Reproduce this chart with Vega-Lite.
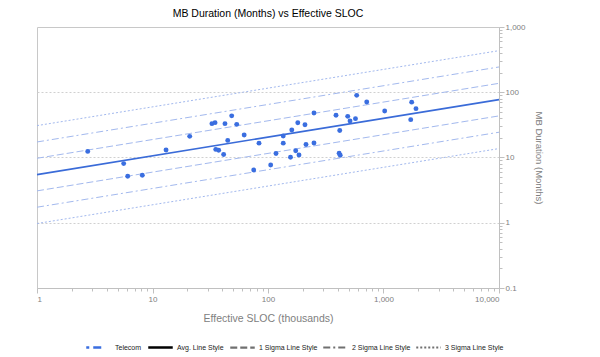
{
  "$schema": "https://vega.github.io/schema/vega-lite/v6.json",
  "width": 462,
  "height": 261,
  "autosize": {"type": "none"},
  "padding": {"left": 37, "top": 27, "right": 101, "bottom": 69},
  "title": {"text": "MB Duration (Months) vs Effective SLOC", "fontSize": 10.5, "font": "Liberation Sans", "fontWeight": "normal", "color": "#000000", "offset": 4, "anchor": "middle"},
  "config": {
    "font": "Liberation Sans",
    "view": {"stroke": "#c8c8c8", "strokeWidth": 1},
    "axis": {"domainColor": "#c0c0c0", "tickColor": "#c0c0c0", "labelColor": "#808080", "titleColor": "#808080", "labelFont": "Liberation Sans", "titleFont": "Liberation Sans", "titleFontWeight": "normal"}
  },
  "datasets": {
    "points": [
      {"series": "Telecom", "x": 2.75, "y": 12.4},
      {"series": "Telecom", "x": 5.63, "y": 8.07},
      {"series": "Telecom", "x": 6.1, "y": 5.15},
      {"series": "Telecom", "x": 8.16, "y": 5.34},
      {"series": "Telecom", "x": 13.1, "y": 13.0},
      {"series": "Telecom", "x": 21.0, "y": 21.1},
      {"series": "Telecom", "x": 32.7, "y": 33.0},
      {"series": "Telecom", "x": 34.8, "y": 34.2},
      {"series": "Telecom", "x": 42.4, "y": 33.0},
      {"series": "Telecom", "x": 48.5, "y": 43.5},
      {"series": "Telecom", "x": 53.6, "y": 32.2},
      {"series": "Telecom", "x": 62.2, "y": 22.1},
      {"series": "Telecom", "x": 44.8, "y": 18.3},
      {"series": "Telecom", "x": 35.3, "y": 13.3},
      {"series": "Telecom", "x": 37.4, "y": 12.9},
      {"series": "Telecom", "x": 41.3, "y": 11.1},
      {"series": "Telecom", "x": 75.2, "y": 6.44},
      {"series": "Telecom", "x": 83.6, "y": 16.6},
      {"series": "Telecom", "x": 105.5, "y": 7.68},
      {"series": "Telecom", "x": 117.3, "y": 11.5},
      {"series": "Telecom", "x": 135.5, "y": 21.3},
      {"series": "Telecom", "x": 135.5, "y": 16.6},
      {"series": "Telecom", "x": 160.7, "y": 26.4},
      {"series": "Telecom", "x": 181.1, "y": 34.0},
      {"series": "Telecom", "x": 209, "y": 31.7},
      {"series": "Telecom", "x": 173.8, "y": 12.7},
      {"series": "Telecom", "x": 156.6, "y": 10.1},
      {"series": "Telecom", "x": 185.5, "y": 10.9},
      {"series": "Telecom", "x": 213.3, "y": 15.8},
      {"series": "Telecom", "x": 250, "y": 16.7},
      {"series": "Telecom", "x": 250, "y": 48.0},
      {"series": "Telecom", "x": 388, "y": 44.3},
      {"series": "Telecom", "x": 490, "y": 42.7},
      {"series": "Telecom", "x": 513, "y": 36.2},
      {"series": "Telecom", "x": 572, "y": 39.4},
      {"series": "Telecom", "x": 586, "y": 89.7},
      {"series": "Telecom", "x": 716, "y": 70.8},
      {"series": "Telecom", "x": 418, "y": 25.9},
      {"series": "Telecom", "x": 413, "y": 11.6},
      {"series": "Telecom", "x": 422, "y": 10.8},
      {"series": "Telecom", "x": 1024, "y": 51.5},
      {"series": "Telecom", "x": 1754, "y": 70.5},
      {"series": "Telecom", "x": 1911, "y": 56.1},
      {"series": "Telecom", "x": 1721, "y": 38.0}
    ],
    "lines": [
      {"series": "Avg. Line Style", "line": "avg", "x": 1, "y": 5.47},
      {"series": "Avg. Line Style", "line": "avg", "x": 10000, "y": 77.1},
      {"series": "1 Sigma Line Style", "line": "p1", "x": 1, "y": 9.73},
      {"series": "1 Sigma Line Style", "line": "p1", "x": 10000, "y": 137},
      {"series": "1 Sigma Line Style", "line": "m1", "x": 1, "y": 3.08},
      {"series": "1 Sigma Line Style", "line": "m1", "x": 10000, "y": 43.4},
      {"series": "2 Sigma Line Style", "line": "p2", "x": 1, "y": 17.3},
      {"series": "2 Sigma Line Style", "line": "p2", "x": 10000, "y": 244},
      {"series": "2 Sigma Line Style", "line": "m2", "x": 1, "y": 1.73},
      {"series": "2 Sigma Line Style", "line": "m2", "x": 10000, "y": 24.4},
      {"series": "3 Sigma Line Style", "line": "p3", "x": 1, "y": 30.8},
      {"series": "3 Sigma Line Style", "line": "p3", "x": 10000, "y": 434},
      {"series": "3 Sigma Line Style", "line": "m3", "x": 1, "y": 0.973},
      {"series": "3 Sigma Line Style", "line": "m3", "x": 10000, "y": 13.7}
    ]
  },
  "encoding": {
    "x": {
      "field": "x", "type": "quantitative",
      "scale": {"type": "log", "domain": [1, 10000], "nice": false},
      "axis": {
        "title": "Effective SLOC (thousands)", "titleFontSize": 10.5, "titlePadding": 10,
        "labelFontSize": 8, "format": ",", "grid": false,
        "values": [1,2,3,4,5,6,7,8,9,10,20,30,40,50,60,70,80,90,100,200,300,400,500,600,700,800,900,1000,2000,3000,4000,5000,6000,7000,8000,9000,10000],
        "labelExpr": "indexof([1,10,100,1000,10000], datum.value) >= 0 ? datum.label : ''",
        "tickSize": {"condition": {"test": "indexof([1,10,100,1000,10000], datum.value) >= 0", "value": 5}, "value": 3},
        "labelPadding": 2
      }
    },
    "y": {
      "field": "y", "type": "quantitative",
      "scale": {"type": "log", "domain": [0.1, 1000], "nice": false},
      "axis": {
        "orient": "right", "title": "MB Duration (Months)", "titleAngle": 90, "titleFontSize": 9.5, "titlePadding": 8,
        "labelFontSize": 8, "format": ",",
        "values": [0.1,0.2,0.3,0.4,0.5,0.6,0.7,0.8,0.9,1,2,3,4,5,6,7,8,9,10,20,30,40,50,60,70,80,90,100,200,300,400,500,600,700,800,900,1000],
        "labelExpr": "indexof([0.1,1,10,100,1000], datum.value) >= 0 ? datum.label : ''",
        "tickSize": {"condition": {"test": "indexof([0.1,1,10,100,1000], datum.value) >= 0", "value": 5}, "value": 3},
        "labelPadding": 1,
        "grid": true, "gridColor": "#d0d0d0", "gridDash": [2, 2],
        "gridOpacity": {"condition": {"test": "indexof([1,10,100], datum.value) >= 0", "value": 1}, "value": 0}
      }
    }
  },
  "layer": [
    {
      "data": {"name": "lines"},
      "transform": [{"filter": "false"}],
      "mark": {"type": "line"},
      "encoding": {
        "detail": {"field": "line"},
        "color": {
          "field": "series", "type": "nominal",
          "scale": {"domain": ["Telecom", "Avg. Line Style", "1 Sigma Line Style", "2 Sigma Line Style", "3 Sigma Line Style"], "range": ["#3a6ee0", "#000000", "#707070", "#707070", "#707070"]},
          "legend": {"orient": "none", "legendX": 48, "legendY": 307, "direction": "horizontal", "title": null, "gridAlign": "none", "symbolType": "stroke", "symbolSize": 600, "symbolStrokeWidth": 1, "symbolOpacity": 1, "labelFontSize": 7, "labelFont": "Liberation Sans", "labelColor": "#222222", "columnPadding": 1, "labelOffset": 3}
        },
        "strokeDash": {
          "field": "series", "type": "nominal",
          "scale": {"domain": ["Telecom", "Avg. Line Style", "1 Sigma Line Style", "2 Sigma Line Style", "3 Sigma Line Style"], "range": [[3, 4, 8, 40], [1, 0], [7, 3], [7, 3, 2, 3], [2, 2]]},
          "legend": {"orient": "none", "legendX": 48, "legendY": 307, "direction": "horizontal", "title": null, "gridAlign": "none", "symbolType": "stroke", "symbolSize": 600, "symbolStrokeWidth": 1, "symbolOpacity": 1, "labelFontSize": 7, "labelFont": "Liberation Sans", "labelColor": "#222222", "columnPadding": 1, "labelOffset": 3}
        },
        "strokeWidth": {
          "field": "series", "type": "nominal",
          "scale": {"domain": ["Telecom", "Avg. Line Style", "1 Sigma Line Style", "2 Sigma Line Style", "3 Sigma Line Style"], "range": [2.5, 2, 1, 1, 1]},
          "legend": {"orient": "none", "legendX": 48, "legendY": 307, "direction": "horizontal", "title": null, "gridAlign": "none", "symbolType": "stroke", "symbolSize": 600, "symbolStrokeWidth": 1, "symbolOpacity": 1, "labelFontSize": 7, "labelFont": "Liberation Sans", "labelColor": "#222222", "columnPadding": 1, "labelOffset": 3}
        }
      }
    },
    {
      "data": {"name": "lines"},
      "transform": [{"filter": "datum.line !== 'avg'"}],
      "mark": {"type": "line", "stroke": "#a3b9ee", "strokeWidth": 1},
      "encoding": {
        "detail": {"field": "line"},
        "strokeDash": {"field": "series", "type": "nominal", "legend": null}
      }
    },
    {
      "data": {"name": "lines"},
      "transform": [{"filter": "datum.line === 'avg'"}],
      "mark": {"type": "line", "stroke": "#3a6bd8", "strokeWidth": 1.6},
      "encoding": {
        "detail": {"field": "line"}
      }
    },
    {
      "data": {"name": "points"},
      "mark": {"type": "point", "filled": true, "color": "#3a6ee0", "size": 24, "opacity": 1},
      "encoding": {}
    }
  ]
}
